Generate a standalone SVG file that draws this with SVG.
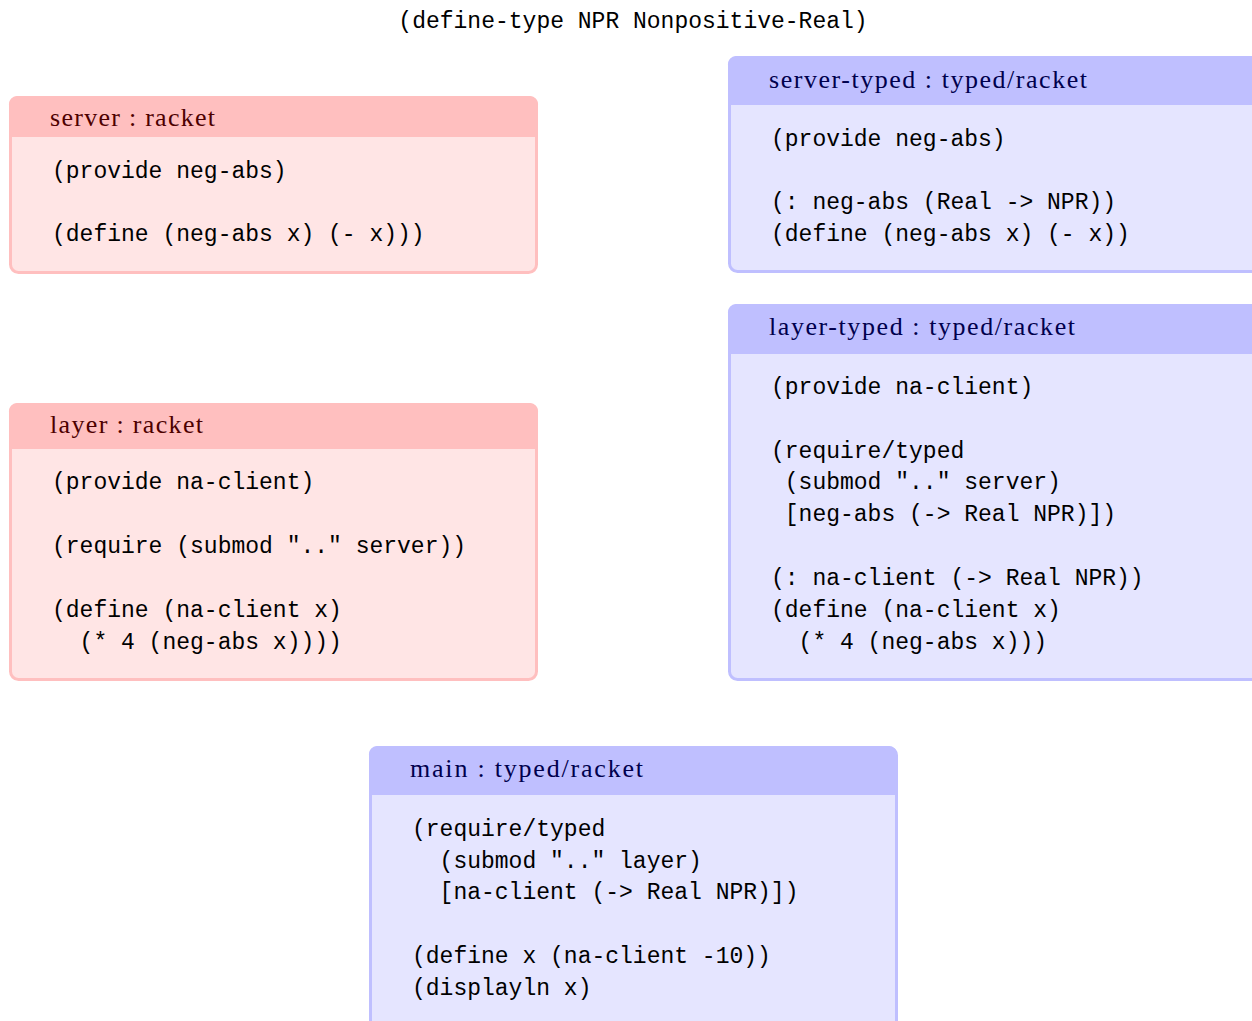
<svg xmlns="http://www.w3.org/2000/svg" width="1252" height="1021" viewBox="0 0 1252 1021">
  <style>
    .code { font-family: "Liberation Mono", "DejaVu Sans Mono", monospace; font-size: 23px; fill: #000; white-space: pre; }
    .title { font-family: "Liberation Serif", "DejaVu Serif", serif; font-size: 26px; }
    .untyped .body { fill: #ffe5e5; stroke: #ffbfbf; stroke-width: 3; }
    .untyped .head { fill: #ffbfbf; }
    .untyped .title { fill: #4d0000; }
    .typed .body { fill: #e5e5ff; stroke: #bfbfff; stroke-width: 3; }
    .typed .head { fill: #bfbfff; }
    .typed .title { fill: #00004d; }
  </style>

  <text class="code" x="633" y="28" text-anchor="middle">(define-type NPR Nonpositive-Real)</text>

  <!-- server : racket -->
  <g id="server" class="untyped">
    <rect class="body" x="10.5" y="97.5" width="526" height="175" rx="8"/>
    <path class="head" d="M9 137 V105 A8 8 0 0 1 17 96 H530 A8 8 0 0 1 538 105 V137 Z"/>
    <text class="title" x="50" y="126" textLength="165" lengthAdjust="spacing">server : racket</text>
    <text class="code" x="52" y="178">(provide neg-abs)</text>
    <text class="code" x="52" y="241">(define (neg-abs x) (- x)))</text>
  </g>

  <!-- server-typed : typed/racket -->
  <g id="server-typed" class="typed">
    <rect class="body" x="729.5" y="57.5" width="560" height="214" rx="8"/>
    <path class="head" d="M728 105 V65 A8 8 0 0 1 736 56 H1290 V105 Z"/>
    <text class="title" x="769" y="88" textLength="318" lengthAdjust="spacing">server-typed : typed/racket</text>
    <text class="code" x="771" y="146">(provide neg-abs)</text>
    <text class="code" x="771" y="209">(: neg-abs (Real -&gt; NPR))</text>
    <text class="code" x="771" y="241">(define (neg-abs x) (- x))</text>
  </g>

  <!-- layer : racket -->
  <g id="layer" class="untyped">
    <rect class="body" x="10.5" y="404.5" width="526" height="275" rx="8"/>
    <path class="head" d="M9 449 V412 A8 8 0 0 1 17 403 H530 A8 8 0 0 1 538 412 V449 Z"/>
    <text class="title" x="50" y="433" textLength="153" lengthAdjust="spacing">layer : racket</text>
    <text class="code" x="52" y="489">(provide na-client)</text>
    <text class="code" x="52" y="553">(require (submod ".." server))</text>
    <text class="code" x="52" y="617">(define (na-client x)</text>
    <text class="code" x="52" y="649">  (* 4 (neg-abs x))))</text>
  </g>

  <!-- layer-typed : typed/racket -->
  <g id="layer-typed" class="typed">
    <rect class="body" x="729.5" y="305.5" width="560" height="374" rx="8"/>
    <path class="head" d="M728 354 V313 A8 8 0 0 1 736 304 H1290 V354 Z"/>
    <text class="title" x="769" y="335" textLength="306" lengthAdjust="spacing">layer-typed : typed/racket</text>
    <text class="code" x="771" y="394">(provide na-client)</text>
    <text class="code" x="771" y="458">(require/typed</text>
    <text class="code" x="771" y="489"> (submod ".." server)</text>
    <text class="code" x="771" y="521"> [neg-abs (-&gt; Real NPR)])</text>
    <text class="code" x="771" y="585">(: na-client (-&gt; Real NPR))</text>
    <text class="code" x="771" y="617">(define (na-client x)</text>
    <text class="code" x="771" y="649">  (* 4 (neg-abs x)))</text>
  </g>

  <!-- main : typed/racket -->
  <g id="main" class="typed">
    <rect class="body" x="370.5" y="747.5" width="526" height="300" rx="8"/>
    <path class="head" d="M369 795 V755 A8 8 0 0 1 377 746 H889 A8 8 0 0 1 897 755 V795 Z"/>
    <text class="title" x="410" y="777" textLength="233" lengthAdjust="spacing">main : typed/racket</text>
    <text class="code" x="412" y="836">(require/typed</text>
    <text class="code" x="412" y="868">  (submod ".." layer)</text>
    <text class="code" x="412" y="899">  [na-client (-&gt; Real NPR)])</text>
    <text class="code" x="412" y="963">(define x (na-client -10))</text>
    <text class="code" x="412" y="995">(displayln x)</text>
  </g>

  <g id="connectors"/>
</svg>
